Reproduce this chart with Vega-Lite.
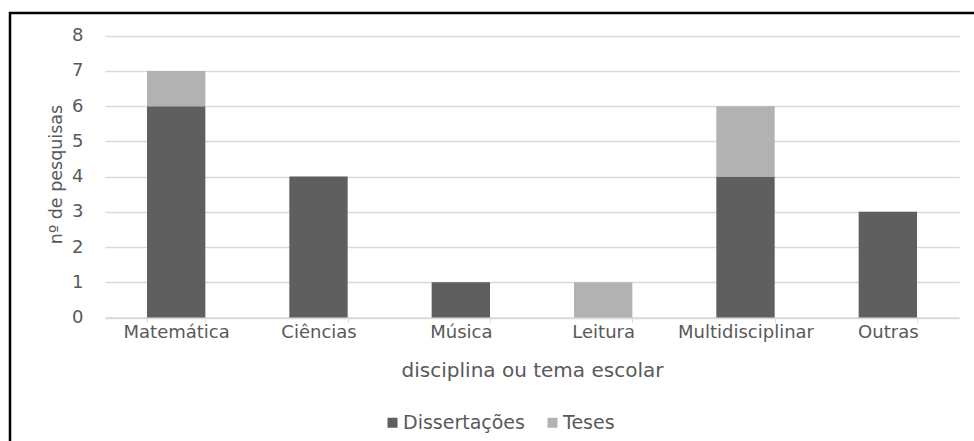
{
  "$schema": "https://vega.github.io/schema/vega-lite/v6.json",
  "width": 964,
  "height": 428,
  "autosize": {"type": "none"},
  "padding": {"left": 10, "top": 13, "right": 0, "bottom": 0},
  "background": "#ffffff",
  "view": {"stroke": "#000000", "strokeWidth": 2.5, "strokeDash": [964, 1392, 430]},
  "config": {
    "font": "DejaVu Sans",
    "axis": {"labelColor": "#595959", "titleColor": "#595959", "labelFont": "DejaVu Sans", "titleFont": "DejaVu Sans", "titleFontWeight": "normal"},
    "legend": {"labelColor": "#595959", "labelFont": "DejaVu Sans"}
  },
  "data": {
    "values": [
      {"disciplina": "Matemática", "tipo": "Dissertações", "n": 6},
      {"disciplina": "Matemática", "tipo": "Teses", "n": 1},
      {"disciplina": "Ciências", "tipo": "Dissertações", "n": 4},
      {"disciplina": "Música", "tipo": "Dissertações", "n": 1},
      {"disciplina": "Leitura", "tipo": "Teses", "n": 1},
      {"disciplina": "Multidisciplinar", "tipo": "Dissertações", "n": 4},
      {"disciplina": "Multidisciplinar", "tipo": "Teses", "n": 2},
      {"disciplina": "Outras", "tipo": "Dissertações", "n": 3}
    ]
  },
  "mark": {"type": "bar"},
  "encoding": {
    "x": {
      "field": "disciplina",
      "type": "nominal",
      "sort": ["Matemática", "Ciências", "Música", "Leitura", "Multidisciplinar", "Outras"],
      "scale": {"domain": ["Matemática", "Ciências", "Música", "Leitura", "Multidisciplinar", "Outras"], "range": [95, 949], "paddingInner": 0.59, "paddingOuter": 0.295},
      "axis": {
        "title": "disciplina ou tema escolar",
        "titleFontSize": 20,
        "titleBaseline": "alphabetic",
        "titleY": 59,
        "offset": -123.5,
        "labelAngle": 0,
        "labelFontSize": 18,
        "labelBaseline": "alphabetic",
        "labelPadding": 14.5,
        "tickSize": 5,
        "tickColor": "#d9d9d9",
        "tickBand": "extent",
        "domainColor": "#d9d9d9",
        "domainWidth": 1.3,
        "grid": false
      }
    },
    "y": {
      "field": "n",
      "type": "quantitative",
      "aggregate": "sum",
      "stack": "zero",
      "scale": {"domain": [0, 8], "range": [304.5, 22.7], "nice": false},
      "axis": {
        "title": "nº de pesquisas",
        "titleFontSize": 17.5,
        "titleBaseline": "alphabetic",
        "titleX": -44,
        "titleY": 161,
        "offset": -95,
        "values": [0, 1, 2, 3, 4, 5, 6, 7, 8],
        "labelFontSize": 18,
        "labelPadding": 22,
        "ticks": false,
        "tickSize": 0,
        "domain": false,
        "grid": true,
        "gridColor": "#d9d9d9",
        "gridWidth": 1.3
      }
    },
    "color": {
      "field": "tipo",
      "type": "nominal",
      "scale": {"domain": ["Dissertações", "Teses"], "range": ["#5f5f5f", "#b2b2b2"]},
      "legend": {
        "title": null,
        "orient": "none",
        "legendX": 373,
        "legendY": 400,
        "direction": "horizontal",
        "symbolType": "square",
        "symbolSize": 100,
        "symbolStrokeWidth": 0,
        "labelFontSize": 19,
        "columnPadding": 18,
        "labelOffset": 1,
        "padding": 0
      }
    },
    "order": {"field": "tipo", "type": "nominal"}
  }
}
